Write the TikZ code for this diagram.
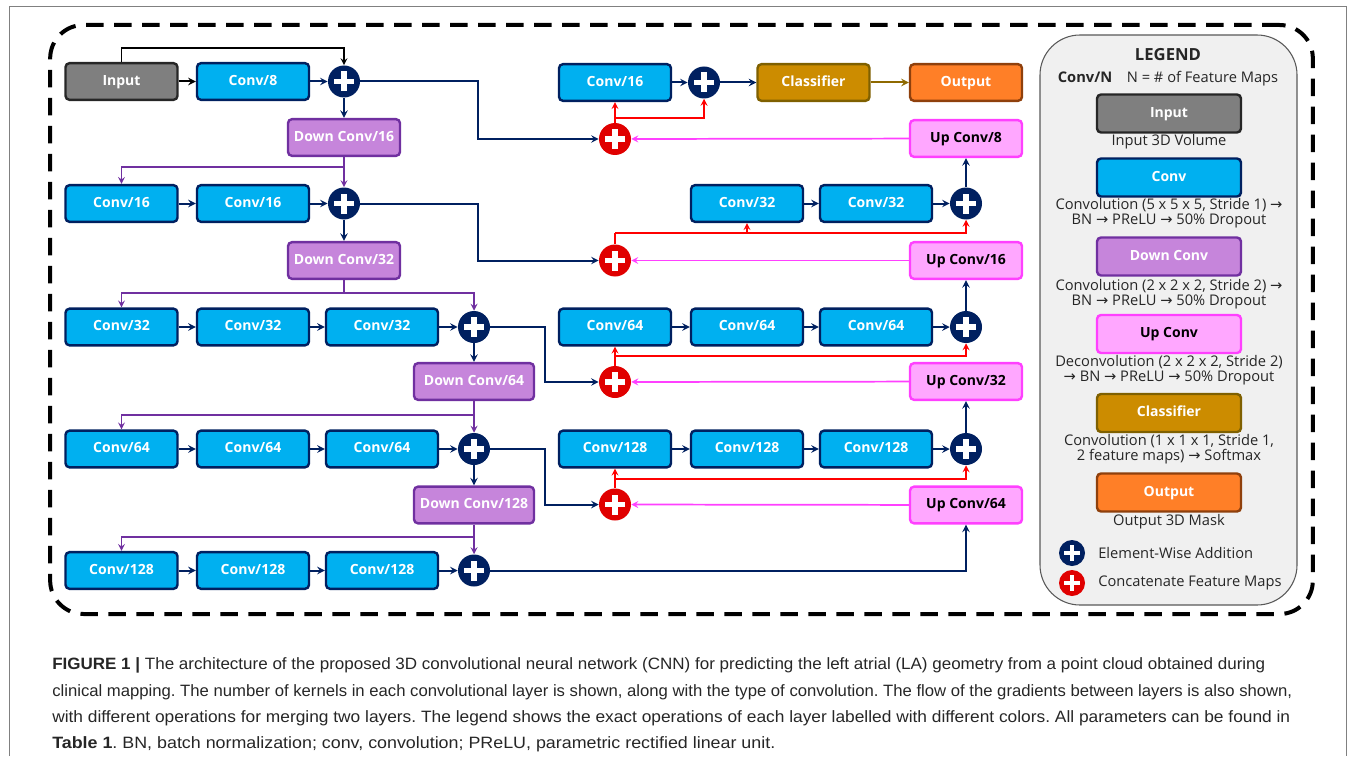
\documentclass[tikz,border=0pt]{standalone}
\usepackage{graphicx}
\usepackage{fontspec}
\setmainfont{Open Sans}
\newfontfamily\capfont{Liberation Sans}
\newfontfamily\arrfont{DejaVu Sans}
\newcommand{\rarr}{{\arrfont\char"2192}}
\definecolor{convfill}{HTML}{00B0F0}
\definecolor{navy}{HTML}{002060}
\definecolor{infill}{HTML}{7F7F7F}
\definecolor{indraw}{HTML}{262626}
\definecolor{downfill}{HTML}{C685DB}
\definecolor{downdraw}{HTML}{7030A0}
\definecolor{upfill}{HTML}{FFA7FF}
\definecolor{updraw}{HTML}{FF40FF}
\definecolor{clsfill}{HTML}{CC8C00}
\definecolor{clsdraw}{HTML}{7F6000}
\definecolor{outfill}{HTML}{FF7F27}
\definecolor{outdraw}{HTML}{8F400C}
\definecolor{catred}{HTML}{E00000}
\definecolor{leggray}{HTML}{F0F0F0}
\frenchspacing

\begin{document}
\begin{tikzpicture}[x=0.75pt, y=-0.75pt, >=stealth,
  box/.style={rounded corners=3pt, line width=1.8pt, minimum width=84pt, minimum height=27.5pt,
    inner sep=2pt, text height=7.6pt, text depth=2.2pt, font=\bfseries\fontsize{10.5}{12}\selectfont, text=white},
  convbox/.style={box, fill=convfill, draw=navy},
  inbox/.style={box, fill=infill, draw=indraw},
  downbox/.style={box, fill=downfill, draw=downdraw},
  upbox/.style={box, fill=upfill, draw=updraw, text=black},
  clsbox/.style={box, fill=clsfill, draw=clsdraw},
  outbox/.style={box, fill=outfill, draw=outdraw},
  legsize/.style={minimum width=108pt, minimum height=28.5pt},
  crosspic/.style 2 args={path picture={
    \fill[white] ([shift={(-#1,-#2)}]path picture bounding box.center) rectangle ([shift={(#1,#2)}]path picture bounding box.center);
    \fill[white] ([shift={(-#2,-#1)}]path picture bounding box.center) rectangle ([shift={(#2,#1)}]path picture bounding box.center);}},
  addnode/.style={circle, inner sep=0pt, minimum size=24pt, fill=navy, crosspic={7.5pt}{2.2pt}},
  catnode/.style={addnode, fill=catred},
  navline/.style={draw=navy, line width=1.5pt},
  purpline/.style={draw=downdraw, line width=1.3pt},
  redline/.style={draw=red, line width=1.3pt},
  magline/.style={draw=updraw, line width=1.3pt},
  legtext/.style={font=\fontsize{11}{11.5}\selectfont, text=indraw, align=center, inner sep=0pt},
  captext/.style={anchor=base west, inner sep=0pt, font=\capfont\fontsize{12.3}{14}\selectfont, text=indraw}]

\useasboundingbox (0,0) rectangle (1355,756);
\draw[gray, line width=0.7pt] (9,756) -- (9,6) -- (1346,6) -- (1346,756);

% outer frame and legend panel
\node (frame) at (681.5,319.5) [draw, line width=3pt, dash pattern=on 13pt off 8pt, rounded corners=25pt,
  minimum width=947pt, minimum height=441.75pt] {};
\node (legend) at (1168.5,320) [draw=gray!70!black, fill=leggray, line width=0.8pt, rounded corners=30pt,
  minimum width=192.75pt, minimum height=427.5pt] {};

% encoder
\node (in) at (121.5,81.5) [inbox] {Input};
\node (c1) at (253,81.5) [convbox] {Conv/8};
\node (p1) at (344,81.5) [addnode] {};
\node (d16) at (344,137.5) [downbox] {Down Conv/16};
\node (c2a) at (121.5,203.5) [convbox] {Conv/16};
\node (c2b) at (253,203.5) [convbox] {Conv/16};
\node (p2) at (344,203.5) [addnode] {};
\node (d32) at (344,260.5) [downbox] {Down Conv/32};
\node (c3a) at (121.5,327) [convbox] {Conv/32};
\node (c3b) at (253,327) [convbox] {Conv/32};
\node (c3c) at (382,327) [convbox] {Conv/32};
\node (p3) at (474,327) [addnode] {};
\node (d64) at (474,381.5) [downbox, minimum width=90pt] {Down Conv/64};
\node (c4a) at (121.5,449) [convbox] {Conv/64};
\node (c4b) at (253,449) [convbox] {Conv/64};
\node (c4c) at (382,449) [convbox] {Conv/64};
\node (p4) at (474,449) [addnode] {};
\node (d128) at (474,505) [downbox, minimum width=90pt] {Down Conv/128};
\node (c5a) at (121.5,570.5) [convbox] {Conv/128};
\node (c5b) at (253,570.5) [convbox] {Conv/128};
\node (c5c) at (382,570.5) [convbox] {Conv/128};
\node (p5) at (474,570.5) [addnode] {};

% decoder
\node (c0) at (615,82.5) [convbox] {Conv/16};
\node (q0) at (704,82.5) [addnode] {};
\node (cls) at (813.5,82.5) [clsbox] {Classifier};
\node (out) at (966,82.5) [outbox] {Output};
\node (r1) at (615,139) [catnode] {};
\node (u8) at (966,138.5) [upbox] {Up Conv/8};
\node (e2a) at (747,203.5) [convbox] {Conv/32};
\node (e2b) at (876,203.5) [convbox] {Conv/32};
\node (q2) at (966,203.5) [addnode] {};
\node (r2) at (615,260.5) [catnode] {};
\node (u16) at (966,260.5) [upbox] {Up Conv/16};
\node (e3a) at (615,327) [convbox] {Conv/64};
\node (e3b) at (747,327) [convbox] {Conv/64};
\node (e3c) at (876,327) [convbox] {Conv/64};
\node (q3) at (966,327) [addnode] {};
\node (r3) at (615,382) [catnode] {};
\node (u32) at (966,381.5) [upbox] {Up Conv/32};
\node (e4a) at (615,449) [convbox] {Conv/128};
\node (e4b) at (747,449) [convbox] {Conv/128};
\node (e4c) at (876,449) [convbox] {Conv/128};
\node (q4) at (966,449) [addnode] {};
\node (r4) at (615,504.5) [catnode] {};
\node (u64) at (966,505) [upbox] {Up Conv/64};

% branch points
\coordinate (b1) at (344,167);
\coordinate (b2) at (344,293);
\coordinate (b3) at (474,415);
\coordinate (b4) at (474,537);
\coordinate (k1) at (615,118);
\coordinate (k2) at (615,233);
\coordinate (k3) at (615,356);
\coordinate (k4) at (615,479);

% encoder connectors
\draw[->, line width=1.5pt] (in) -- (c1);
\draw[->, line width=1.3pt] (in.north) -- ++(0,-14) -| (p1.north);
\draw[->, navline] (c1) -- (p1);
\draw[->, navline] (p1) -- (d16);
\draw[purpline] (d16.south) -- (b1);
\draw[->, purpline] (b1) -| (c2a.north);
\draw[->, purpline] (b1) -- (p2.north);
\draw[->, navline] (c2a) -- (c2b);
\draw[->, navline] (c2b) -- (p2);
\draw[->, navline] (p2) -- (d32);
\draw[purpline] (d32.south) -- (b2);
\draw[->, purpline] (b2) -| (c3a.north);
\draw[->, purpline] (b2) -| (p3.north);
\draw[->, navline] (c3a) -- (c3b);
\draw[->, navline] (c3b) -- (c3c);
\draw[->, navline] (c3c) -- (p3);
\draw[->, navline] (p3) -- (d64);
\draw[purpline] (d64.south) -- (b3);
\draw[->, purpline] (b3) -| (c4a.north);
\draw[->, purpline] (b3) -- (p4.north);
\draw[->, navline] (c4a) -- (c4b);
\draw[->, navline] (c4b) -- (c4c);
\draw[->, navline] (c4c) -- (p4);
\draw[->, navline] (p4) -- (d128);
\draw[purpline] (d128.south) -- (b4);
\draw[->, purpline] (b4) -| (c5a.north);
\draw[->, purpline] (b4) -- (p5.north);
\draw[->, navline] (c5a) -- (c5b);
\draw[->, navline] (c5b) -- (c5c);
\draw[->, navline] (c5c) -- (p5);

% skip connections
\draw[->, navline] (p1.east) -- ++(118,0) |- (r1.west);
\draw[->, navline] (p2.east) -- ++(118,0) |- (r2.west);
\draw[->, navline] (p3.east) -- ++(55,0) |- (r3.west);
\draw[->, navline] (p4.east) -- ++(55,0) |- (r4.west);
\draw[->, navline] (p5.east) -| (u64.south);

% decoder connectors
\draw[->, magline] (u8) -- (r1);
\draw[->, magline] (u16) -- (r2);
\draw[->, magline] (u32) -- (r3);
\draw[->, magline] (u64) -- (r4);
\draw[->, redline] (r1.north) -- (c0.south);
\draw[->, redline] (k1) -| (q0.south);
\draw[redline] (r2.north) -- (k2);
\draw[->, redline] (k2) -| (q2.south);
\draw[->, redline] (k2 -| e2a.south) -- (e2a.south);
\draw[->, redline] (r3.north) -- (e3a.south);
\draw[->, redline] (k3) -| (q3.south);
\draw[->, redline] (r4.north) -- (e4a.south);
\draw[->, redline] (k4) -| (q4.south);
\draw[->, navline] (c0) -- (q0);
\draw[->, navline] (q0) -- (cls);
\draw[->, line width=1.5pt, draw=clsdraw!80!clsfill] (cls) -- (out);
\draw[->, navline] (e2a) -- (e2b);
\draw[->, navline] (e2b) -- (q2);
\draw[->, navline] (q2) -- (u8);
\draw[->, navline] (e3a) -- (e3b);
\draw[->, navline] (e3b) -- (e3c);
\draw[->, navline] (e3c) -- (q3);
\draw[->, navline] (q3) -- (u16);
\draw[->, navline] (e4a) -- (e4b);
\draw[->, navline] (e4b) -- (e4c);
\draw[->, navline] (e4c) -- (q4);
\draw[->, navline] (q4) -- (u32);

% legend
\node (lt) at (1168,55) [font=\bfseries\fontsize{12.5}{14}\selectfont, text=indraw] {LEGEND};
\node (ln) at (1168,79) [legtext] {\textbf{Conv/N}\quad N = \# of Feature Maps};
\node (lin) at (1169,113.5) [inbox, legsize] {Input};
\node (linx) at (1169,142) [legtext] {Input 3D Volume};
\node (lcv) at (1169,177.5) [convbox, legsize] {Conv};
\node (lcvx) at (1169,213.5) [legtext] {Convolution (5 x 5 x 5, Stride 1) \rarr\\BN \rarr{} PReLU \rarr{} 50\% Dropout};
\node (ldn) at (1169,256.5) [downbox, legsize] {Down Conv};
\node (ldnx) at (1169,294) [legtext] {Convolution (2 x 2 x 2, Stride 2) \rarr\\BN \rarr{} PReLU \rarr{} 50\% Dropout};
\node (lup) at (1169,334) [upbox, legsize] {Up Conv};
\node (lupx) at (1169,370.5) [legtext] {Deconvolution (2 x 2 x 2, Stride 2)\\\rarr{} BN \rarr{} PReLU \rarr{} 50\% Dropout};
\node (lcl) at (1169,413) [clsbox, legsize] {Classifier};
\node (lclx) at (1169,449.5) [legtext] {Convolution (1 x 1 x 1, Stride 1,\\2 feature maps) \rarr{} Softmax};
\node (lot) at (1169,492.5) [outbox, legsize] {Output};
\node (lotx) at (1169,522) [legtext] {Output 3D Mask};
\node (lad) at (1072,553) [addnode, minimum size=19.5pt, crosspic={6pt}{1.8pt}] {};
\node (ladx) at (1098,553) [legtext, anchor=west] {Element-Wise Addition};
\node (lct) at (1072,583) [catnode, minimum size=19.5pt, crosspic={6pt}{1.8pt}] {};
\node (lctx) at (1098,583) [legtext, anchor=west] {Concatenate Feature Maps};

% caption
\node (cap1) at (52,669) [captext] {\resizebox{909.75pt}{\height}{\textbf{FIGURE 1 |} The architecture of the proposed 3D convolutional neural network (CNN) for predicting the left atrial (LA) geometry from a point cloud obtained during}};
\node (cap2) at (52,696) [captext] {\resizebox{930pt}{\height}{clinical mapping. The number of kernels in each convolutional layer is shown, along with the type of convolution. The flow of the gradients between layers is also shown,}};
\node (cap3) at (52,722.5) [captext] {\resizebox{928.5pt}{\height}{with different operations for merging two layers. The legend shows the exact operations of each layer labelled with different colors. All parameters can be found in}};
\node (cap4) at (52,748.5) [captext] {\resizebox{542.25pt}{\height}{\textbf{Table 1}. BN, batch normalization; conv, convolution; PReLU, parametric rectified linear unit.}};
\end{tikzpicture}
\end{document}
